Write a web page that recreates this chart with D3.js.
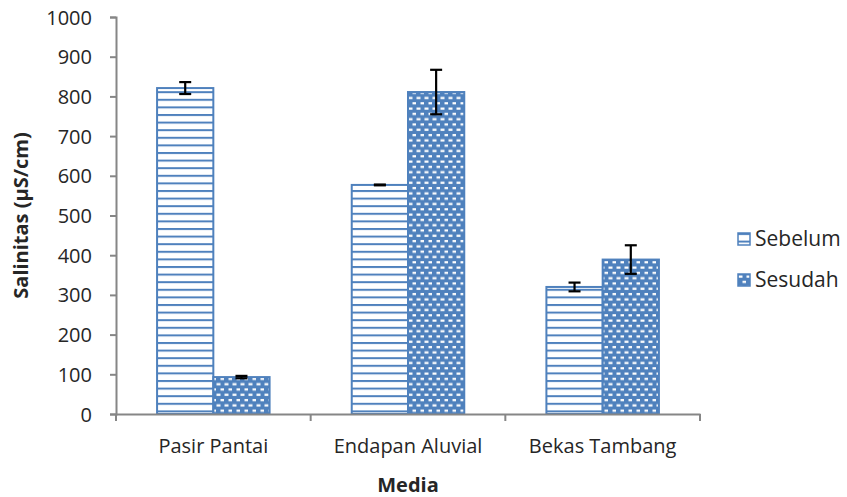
<!DOCTYPE html>
<html>
<head>
<meta charset="utf-8">
<script src="https://cdn.jsdelivr.net/npm/d3@7"></script>
<style>
	body { margin: 0; background: #fff; }
	text { font-family: "Open Sans", "Liberation Sans", sans-serif; fill: #262626; }
</style>
</head>
<body>
<div id="chart"></div>
<script>
var categories = ['Pasir Pantai', 'Endapan Aluvial', 'Bekas Tambang'];
var seriesNames = ['Sebelum', 'Sesudah'];
var sebelum = [821, 577, 320];
var sesudah = [93, 811, 389];
var sebelumErr = [15, 1, 11];
var sesudahErr = [3, 56, 36];
var yTicks = [0, 100, 200, 300, 400, 500, 600, 700, 800, 900, 1000];

var W = 847, H = 497;
var margin = { left: 116, right: 147, top: 17, bottom: 83 };
var fontSize = '20px';

var svg = d3.select('#chart').append('svg')
	.attr('width', W)
	.attr('height', H);

var defs = svg.append('defs');
// horizontal line hatch
var hp = defs.append('pattern')
	.attr('id', 'hlines')
	.attr('patternUnits', 'userSpaceOnUse')
	.attr('width', 8).attr('height', 7.6);
hp.append('rect').attr('width', 8).attr('height', 7.6).attr('fill', '#fff');
hp.append('rect').attr('y', 0).attr('width', 8).attr('height', 2).attr('fill', '#4f81bd');
// dotted grid
var dp = defs.append('pattern')
	.attr('id', 'dots')
	.attr('patternUnits', 'userSpaceOnUse')
	.attr('width', 8).attr('height', 10.6);
dp.append('rect').attr('width', 8).attr('height', 10.6).attr('fill', '#4f81bd');
dp.append('rect').attr('x', 0.5).attr('y', 1.5).attr('width', 4).attr('height', 2.2).attr('fill', '#fff');
dp.append('rect').attr('x', 4.5).attr('y', 6.8).attr('width', 4).attr('height', 2.2).attr('fill', '#fff');

var x = d3.scaleBand()
	.domain(categories)
	.range([margin.left, W - margin.right])
	.paddingInner(0)
	.paddingOuter(0);

var x1 = d3.scaleBand()
	.domain(seriesNames)
	.range([0, x.bandwidth()])
	.paddingOuter(0.73)
	.paddingInner(0);

var y = d3.scaleLinear()
	.domain([0, 1000])
	.range([H - margin.bottom, margin.top]);

var data = [];
categories.forEach(function(c, i){
	data.push({ cat: c, s: 'Sebelum', v: sebelum[i], e: sebelumErr[i], fill: 'url(#hlines)' });
	data.push({ cat: c, s: 'Sesudah', v: sesudah[i], e: sesudahErr[i], fill: 'url(#dots)' });
});

// bars
svg.append('g').selectAll('rect')
	.data(data)
	.enter()
	.append('rect')
	.attr('x', function(d){ return x(d.cat) + x1(d.s); })
	.attr('y', function(d){ return y(d.v); })
	.attr('width', x1.bandwidth())
	.attr('height', function(d){ return y(0) - y(d.v); })
	.attr('fill', function(d){ return d.fill; })
	.attr('stroke', '#4f81bd')
	.attr('stroke-width', 2);

// error bars
var eb = svg.append('g').attr('stroke', '#000').attr('stroke-width', 2.2);
data.forEach(function(d){
	var cx = x(d.cat) + x1(d.s) + x1.bandwidth() / 2;
	eb.append('line').attr('x1', cx).attr('x2', cx).attr('y1', y(d.v + d.e)).attr('y2', y(d.v - d.e));
	eb.append('line').attr('x1', cx - 6).attr('x2', cx + 6).attr('y1', y(d.v + d.e)).attr('y2', y(d.v + d.e));
	eb.append('line').attr('x1', cx - 6).attr('x2', cx + 6).attr('y1', y(d.v - d.e)).attr('y2', y(d.v - d.e));
});

// y axis
var yAxis = svg.append('g')
	.attr('transform', 'translate(' + margin.left + ',0)')
	.call(d3.axisLeft(y).tickValues(yTicks).tickFormat(d3.format('d')).tickSize(6).tickPadding(18));
yAxis.selectAll('text').style('font-size', fontSize).attr('fill', '#262626').attr('dy', '0.35em');

// x axis
var xAxis = svg.append('g')
	.attr('transform', 'translate(0,' + y(0) + ')')
	.call(d3.axisBottom(x).tickSize(0).tickPadding(25));
xAxis.selectAll('text').style('font-size', fontSize).attr('fill', '#262626');
var bounds = categories.map(function(c){ return x(c); }).concat([x.range()[1]]);
xAxis.selectAll('.bound').data(bounds).enter()
	.append('line')
	.attr('class', 'bound')
	.attr('x1', function(d){ return d; }).attr('x2', function(d){ return d; })
	.attr('y1', 0).attr('y2', 7);

svg.selectAll('.domain, .tick line, .bound')
	.attr('stroke', '#868686')
	.attr('stroke-width', 2);

// titles
svg.append('text')
	.attr('transform', 'translate(28,' + ((y(0) + y(1000)) / 2) + ') rotate(-90)')
	.attr('text-anchor', 'middle')
	.style('font-size', fontSize)
	.style('font-weight', 'bold')
	.text('Salinitas (µS/cm)');

svg.append('text')
	.attr('x', (x.range()[0] + x.range()[1]) / 2)
	.attr('y', 492)
	.attr('text-anchor', 'middle')
	.style('font-size', fontSize)
	.style('font-weight', 'bold')
	.text('Media');

// legend
var legend = svg.append('g').attr('transform', 'translate(738,233)');
var fills = ['url(#hlines)', 'url(#dots)'];
seriesNames.forEach(function(s, i){
	var g = legend.append('g').attr('transform', 'translate(0,' + (i * 41) + ')');
	g.append('rect').attr('x', 0).attr('y', 0).attr('width', 12).attr('height', 12)
		.attr('fill', fills[i]).attr('stroke', '#4f81bd').attr('stroke-width', 1.5);
	g.append('text').attr('x', 17).attr('y', 6).attr('dy', '0.35em')
		.style('font-size', '21px').text(s);
});
</script>
</body>
</html>
